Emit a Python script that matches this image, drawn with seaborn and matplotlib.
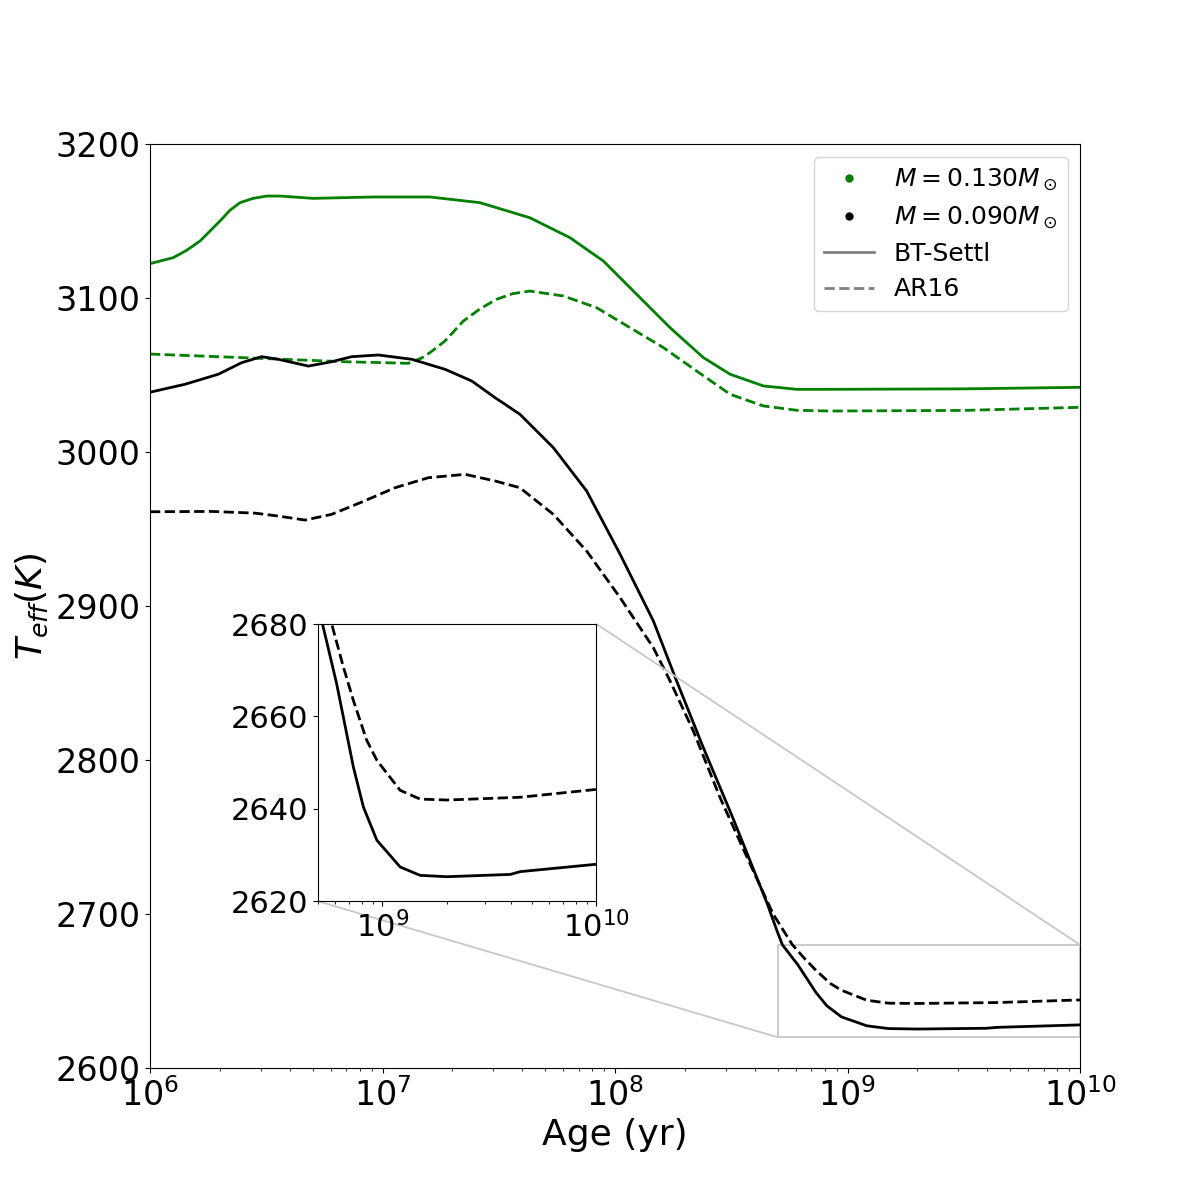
import numpy as np
import matplotlib
import seaborn as sns
import matplotlib.pyplot as plt
from matplotlib.lines import Line2D
from mpl_toolkits.axes_grid1.inset_locator import mark_inset

matplotlib.use('Agg')

# log10(age / yr) and Teff (K)
# M = 0.130 Msun, BT-Settl
logt_g_bt = [6.000, 6.100, 6.158, 6.215, 6.258, 6.301, 6.344, 6.387, 6.444, 6.502,
             6.559, 6.702, 6.961, 7.204, 7.419, 7.634, 7.806, 7.950, 8.093, 8.237,
             8.380, 8.495, 8.638, 8.781, 8.925, 9.500, 10.000]
teff_g_bt = [3122.3, 3126.2, 3131.0, 3137.0, 3143.5, 3150.0, 3157.0, 3161.9, 3164.7, 3166.2,
             3166.2, 3164.7, 3165.6, 3165.6, 3161.9, 3152.1, 3139.2, 3124.0, 3102.4, 3080.7,
             3061.3, 3050.5, 3042.9, 3040.7, 3040.7, 3041.0, 3042.0]

# M = 0.130 Msun, AR16
logt_g_ar = [6.000, 6.409, 6.839, 7.111, 7.168, 7.204, 7.269, 7.348, 7.420, 7.491,
             7.560, 7.634, 7.778, 7.921, 8.065, 8.208, 8.351, 8.495, 8.638, 8.781,
             8.925, 9.500, 10.000]
teff_g_ar = [3063.6, 3061.2, 3058.6, 3057.6, 3061.0, 3064.5, 3072.1, 3085.1, 3093.0, 3099.2,
             3102.8, 3104.5, 3101.3, 3093.7, 3080.7, 3067.8, 3052.6, 3037.5, 3029.9, 3027.1,
             3026.6, 3027.0, 3029.0]

# M = 0.090 Msun, BT-Settl
logt_k_bt = [6.000, 6.151, 6.294, 6.394, 6.480, 6.552, 6.681, 6.781, 6.868, 6.982,
             7.126, 7.269, 7.384, 7.484, 7.591, 7.735, 7.878, 8.022, 8.165, 8.265,
             8.380, 8.508, 8.654, 8.697, 8.720, 8.786, 8.864, 8.911, 8.974, 9.083,
             9.176, 9.301, 9.598, 9.644, 10.000]
teff_k_bt = [3038.8, 3044.0, 3050.5, 3058.0, 3061.9, 3060.2, 3055.8, 3058.6, 3061.9, 3063.0,
             3060.2, 3053.7, 3046.1, 3035.3, 3024.5, 3002.8, 2974.7, 2933.6, 2890.3, 2851.3,
             2808.0, 2762.0, 2707.0, 2689.0, 2680.0, 2667.1, 2649.1, 2640.4, 2633.2, 2627.4,
             2625.6, 2625.3, 2625.8, 2626.4, 2628.0]

# M = 0.090 Msun, AR16
logt_k_ar = [6.000, 6.265, 6.452, 6.552, 6.667, 6.781, 6.911, 7.054, 7.197, 7.355,
             7.484, 7.591, 7.735, 7.878, 8.022, 8.165, 8.237, 8.337, 8.452, 8.581,
             8.680, 8.763, 8.817, 8.864, 8.926, 8.974, 9.083, 9.176, 9.301, 9.644,
             10.000]
teff_k_ar = [2961.2, 2961.4, 2960.3, 2958.4, 2955.8, 2959.5, 2967.5, 2976.8, 2983.3, 2985.5,
             2981.2, 2976.8, 2959.5, 2935.7, 2905.4, 2872.9, 2851.3, 2818.8, 2775.5, 2732.5,
             2700.0, 2680.0, 2670.8, 2663.5, 2654.9, 2650.5, 2644.0, 2642.1, 2641.9, 2642.5,
             2644.2]

curves = [
    (logt_g_bt, teff_g_bt, 'green', '-'),
    (logt_g_ar, teff_g_ar, 'green', '--'),
    (logt_k_bt, teff_k_bt, 'black', '-'),
    (logt_k_ar, teff_k_ar, 'black', '--'),
]

fig = plt.figure(figsize=(12, 12), dpi=100)
ax = fig.add_subplot(111)

for lt, te, c, ls in curves:
    sns.lineplot(x=10 ** np.array(lt), y=te, ax=ax, color=c, linestyle=ls, lw=2)

ax.set_xscale('log')
ax.set_xlim(1e6, 1e10)
ax.set_ylim(2600, 3200)
ax.tick_params(labelsize=24)
ax.set_xlabel('Age (yr)', fontsize=26)
ax.set_ylabel(r'$T_{eff}(K)$', fontsize=26)

handles = [
    Line2D([], [], color='green', marker='o', ls='none', ms=5, label=r'$M = 0.130M_\odot$'),
    Line2D([], [], color='black', marker='o', ls='none', ms=5, label=r'$M = 0.090M_\odot$'),
    Line2D([], [], color='gray', ls='-', lw=2, label='BT-Settl'),
    Line2D([], [], color='gray', ls='--', lw=2, label='AR16'),
]
ax.legend(handles=handles, loc='upper right', fontsize=18, labelspacing=0.45,
          handlelength=2.0)

# zoomed inset
axins = fig.add_axes([0.265, 0.249, 0.232, 0.231])
for lt, te, c, ls in curves[2:]:
    sns.lineplot(x=10 ** np.array(lt), y=te, ax=axins, color=c, linestyle=ls, lw=2)
axins.set_xscale('log')
axins.set_xlim(5e8, 1e10)
axins.set_ylim(2620, 2680)
axins.set_yticks([2620, 2640, 2660, 2680])
axins.tick_params(labelsize=22)
mark_inset(ax, axins, loc1=3, loc2=1, fc='none', ec='0.78', lw=1.3)

fig.savefig('out.png', dpi=100)
